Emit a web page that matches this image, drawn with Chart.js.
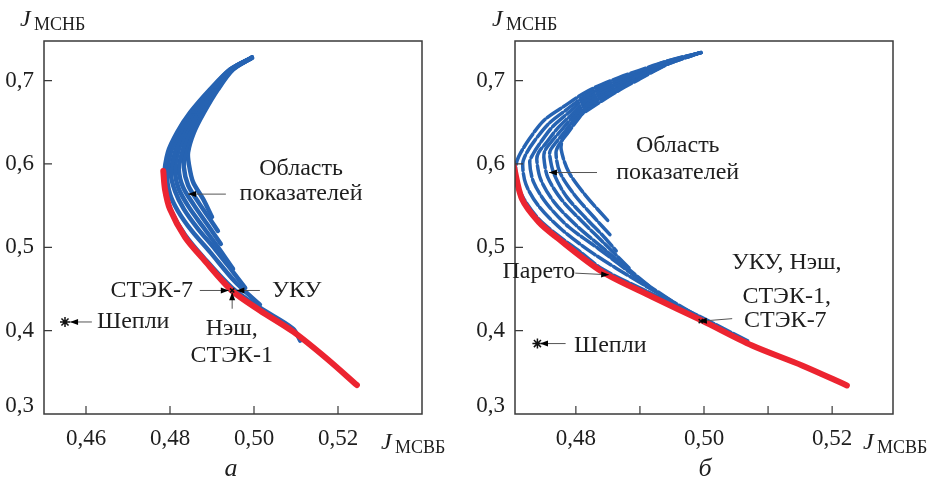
<!DOCTYPE html>
<html>
<head>
<meta charset="utf-8">
<script src="https://cdn.jsdelivr.net/npm/chart.js@4.4.1/dist/chart.umd.min.js"></script>
<style>
    body { margin: 0; background: #fff; }
    .panel { position: absolute; top: 0; width: 471px; height: 480px; }
</style>
</head>
<body>
<div class="panel" style="left:0"><canvas id="chartA" width="471" height="480"></canvas></div>
<div class="panel" style="left:471px"><canvas id="chartB" width="471" height="480"></canvas></div>
<script>
// ---- данные (а) ----
const yTicks = [0.3, 0.4, 0.5, 0.6, 0.7];

const leftXTicks = [0.46, 0.48, 0.50, 0.52];
const leftXLabelled = [0.46, 0.48, 0.50, 0.52];

// фронт Парето (красный)
const leftFrontX = [0.4784, 0.4788, 0.4800, 0.4836, 0.4879, 0.4947, 0.5014, 0.5094, 0.5173, 0.5245];
const leftFrontY = [0.5916, 0.5698, 0.5458, 0.5120, 0.4861, 0.4482, 0.4243, 0.3985, 0.3666, 0.3347];

// область показателей (синие кривые)
const leftCurveX = [
    [0.4995, 0.4943, 0.4895, 0.4848, 0.4817, 0.4795, 0.4786, 0.4790, 0.4805, 0.4836, 0.4879, 0.4948, 0.5014, 0.5093, 0.5110],
    [0.4995, 0.4943, 0.4898, 0.4852, 0.4824, 0.4802, 0.4793, 0.4800, 0.4819, 0.4852, 0.4895, 0.4955, 0.5014],
    [0.4995, 0.4945, 0.4902, 0.4857, 0.4831, 0.4812, 0.4802, 0.4812, 0.4833, 0.4867, 0.4907, 0.4948, 0.4979],
    [0.4995, 0.4945, 0.4905, 0.4864, 0.4838, 0.4819, 0.4812, 0.4821, 0.4845, 0.4879, 0.4914, 0.4950],
    [0.4995, 0.4948, 0.4907, 0.4869, 0.4845, 0.4829, 0.4821, 0.4831, 0.4857, 0.4890, 0.4921],
    [0.4995, 0.4948, 0.4912, 0.4876, 0.4852, 0.4836, 0.4833, 0.4843, 0.4869, 0.4895, 0.4914],
    [0.4995, 0.4950, 0.4914, 0.4881, 0.4857, 0.4843, 0.4845, 0.4855, 0.4879, 0.4900]
];
const leftCurveY = [
    [0.7275, 0.7132, 0.6893, 0.6618, 0.6379, 0.6140, 0.5841, 0.5638, 0.5411, 0.5148, 0.4885, 0.4514, 0.4275, 0.4024, 0.3881],
    [0.7275, 0.7132, 0.6893, 0.6618, 0.6379, 0.6140, 0.5865, 0.5638, 0.5435, 0.5196, 0.4945, 0.4586, 0.4311],
    [0.7275, 0.7132, 0.6893, 0.6618, 0.6379, 0.6140, 0.5889, 0.5674, 0.5458, 0.5219, 0.4980, 0.4717, 0.4514],
    [0.7275, 0.7132, 0.6893, 0.6618, 0.6379, 0.6140, 0.5913, 0.5698, 0.5482, 0.5243, 0.5004, 0.4741],
    [0.7275, 0.7132, 0.6893, 0.6618, 0.6379, 0.6140, 0.5937, 0.5721, 0.5506, 0.5267, 0.5040],
    [0.7275, 0.7132, 0.6893, 0.6618, 0.6379, 0.6140, 0.5960, 0.5745, 0.5530, 0.5339, 0.5196],
    [0.7275, 0.7132, 0.6893, 0.6618, 0.6379, 0.6140, 0.5996, 0.5781, 0.5578, 0.5363]
];

const leftShapleyX = [0.4550];
const leftShapleyY = [0.4104];
const leftSolutionX = [0.4948];
const leftSolutionY = [0.4482];

// ---- данные (б) ----
const rightXTicks = [0.48, 0.49, 0.50, 0.51, 0.52];
const rightXLabelled = [0.48, 0.50, 0.52];

const rightFrontX = [0.4703, 0.4716, 0.4742, 0.4769, 0.4841, 0.4919, 0.4997, 0.5075, 0.5153, 0.5223];
const rightFrontY = [0.5980, 0.5578, 0.5303, 0.5124, 0.4706, 0.4407, 0.4120, 0.3821, 0.3582, 0.3343];

const rightCurveX = [
    [0.4995, 0.4945, 0.4898, 0.4867, 0.4820, 0.4781, 0.4750, 0.4727, 0.4711, 0.4706, 0.4709, 0.4719, 0.4742, 0.4769, 0.4805, 0.4841, 0.4919, 0.4997, 0.5070],
    [0.4995, 0.4945, 0.4898, 0.4867, 0.4820, 0.4786, 0.4758, 0.4736, 0.4722, 0.4717, 0.4722, 0.4742, 0.4777, 0.4828, 0.4898, 0.4997],
    [0.4995, 0.4945, 0.4898, 0.4867, 0.4820, 0.4789, 0.4764, 0.4745, 0.4733, 0.4728, 0.4734, 0.4755, 0.4789, 0.4836, 0.4898, 0.4956],
    [0.4995, 0.4945, 0.4898, 0.4867, 0.4820, 0.4792, 0.4770, 0.4753, 0.4742, 0.4739, 0.4745, 0.4766, 0.4800, 0.4844, 0.4914],
    [0.4995, 0.4945, 0.4898, 0.4867, 0.4820, 0.4795, 0.4777, 0.4761, 0.4752, 0.4750, 0.4756, 0.4777, 0.4809, 0.4847, 0.4883],
    [0.4995, 0.4945, 0.4898, 0.4867, 0.4820, 0.4798, 0.4783, 0.4769, 0.4761, 0.4759, 0.4766, 0.4786, 0.4817, 0.4844, 0.4863],
    [0.4995, 0.4945, 0.4898, 0.4867, 0.4820, 0.4802, 0.4788, 0.4775, 0.4769, 0.4775, 0.4797, 0.4828, 0.4855],
    [0.4995, 0.4945, 0.4898, 0.4867, 0.4820, 0.4805, 0.4789, 0.4780, 0.4777, 0.4789, 0.4816, 0.4852]
];
const rightCurveY = [
    [0.7335, 0.7239, 0.7120, 0.7036, 0.6881, 0.6689, 0.6522, 0.6295, 0.6092, 0.5960, 0.5757, 0.5578, 0.5339, 0.5160, 0.4956, 0.4741, 0.4443, 0.4156, 0.3869],
    [0.7335, 0.7239, 0.7108, 0.7012, 0.6845, 0.6654, 0.6486, 0.6283, 0.6116, 0.5996, 0.5757, 0.5494, 0.5219, 0.4921, 0.4586, 0.4144],
    [0.7335, 0.7227, 0.7096, 0.6988, 0.6821, 0.6618, 0.6450, 0.6259, 0.6116, 0.6020, 0.5781, 0.5518, 0.5243, 0.4980, 0.4622, 0.4323],
    [0.7335, 0.7227, 0.7072, 0.6964, 0.6785, 0.6582, 0.6415, 0.6247, 0.6140, 0.6056, 0.5817, 0.5542, 0.5267, 0.4980, 0.4538],
    [0.7335, 0.7215, 0.7060, 0.6952, 0.6749, 0.6558, 0.6403, 0.6259, 0.6164, 0.6080, 0.5841, 0.5578, 0.5315, 0.5028, 0.4753],
    [0.7335, 0.7215, 0.7048, 0.6929, 0.6713, 0.6534, 0.6391, 0.6259, 0.6176, 0.6116, 0.5877, 0.5602, 0.5339, 0.5124, 0.4956],
    [0.7335, 0.7203, 0.7024, 0.6905, 0.6689, 0.6522, 0.6379, 0.6247, 0.6140, 0.5901, 0.5638, 0.5363, 0.5136],
    [0.7335, 0.7203, 0.7012, 0.6881, 0.6654, 0.6570, 0.6450, 0.6319, 0.6176, 0.5901, 0.5614, 0.5303]
];

const rightShapleyX = [0.4740];
const rightShapleyY = [0.3845];
const rightSolutionX = [0.4995];
const rightSolutionY = [0.4115];

// ---- оформление ----
const SERIF = "'Liberation Serif', 'Times New Roman', serif";
const BLUE = "#2663b2";
const RED = "#ec2430";
const INK = "#1e1e1e";

function toPoints(xs, ys) {
    return xs.map((x, i) => ({ x: x, y: ys[i] }));
}

function fmt(v, digits) {
    return v.toFixed(digits).replace(".", ",");
}

function drawArrow(ctx, x1, y1, x2, y2) {
    ctx.save();
    ctx.strokeStyle = "#555";
    ctx.lineWidth = 1;
    ctx.beginPath();
    ctx.moveTo(x1, y1);
    ctx.lineTo(x2, y2);
    ctx.stroke();
    const a = Math.atan2(y2 - y1, x2 - x1);
    ctx.fillStyle = "#000";
    ctx.beginPath();
    ctx.moveTo(x2, y2);
    ctx.lineTo(x2 - 8 * Math.cos(a) + 3 * Math.sin(a), y2 - 8 * Math.sin(a) - 3 * Math.cos(a));
    ctx.lineTo(x2 - 8 * Math.cos(a) - 3 * Math.sin(a), y2 - 8 * Math.sin(a) + 3 * Math.cos(a));
    ctx.closePath();
    ctx.fill();
    ctx.restore();
}

function drawJ(ctx, x, y, sub) {
    ctx.textAlign = "left";
    ctx.textBaseline = "alphabetic";
    ctx.font = "italic 24px " + SERIF;
    ctx.fillText("J", x, y);
    ctx.font = "18px " + SERIF;
    ctx.fillText(sub, x + 14, y + 4);
}

// рамка, внутренние засечки, подписи
function framePlugin(p) {
    return {
        id: "frame",
        afterDraw(chart) {
            const ctx = chart.ctx;
            const a = chart.chartArea;
            const xs = chart.scales.x;
            const ys = chart.scales.y;
            ctx.save();
            ctx.strokeStyle = "#3a3a3a";
            ctx.lineWidth = 1.5;
            ctx.strokeRect(a.left, a.top, a.right - a.left, a.bottom - a.top);

            ctx.lineWidth = 1.2;
            ctx.beginPath();
            xs.ticks.forEach(t => {
                const px = xs.getPixelForValue(t.value);
                ctx.moveTo(px, a.bottom);
                ctx.lineTo(px, a.bottom - 8);
            });
            ys.ticks.forEach(t => {
                if (t.value <= ys.min) return;
                const py = ys.getPixelForValue(t.value);
                ctx.moveTo(a.left, py);
                ctx.lineTo(a.left + 8, py);
            });
            ctx.stroke();

            ctx.fillStyle = INK;
            drawJ(ctx, p.yTitleX, 26, "МСНБ");
            drawJ(ctx, p.xTitleX, 449, "МСВБ");
            ctx.font = "italic 26px " + SERIF;
            ctx.textAlign = "center";
            ctx.fillText(p.letter, p.letterX, 476);

            ctx.font = "24px " + SERIF;
            ctx.textBaseline = "middle";
            p.notes.forEach(n => {
                ctx.textAlign = n.align || "center";
                ctx.fillText(n.text, xs.getPixelForValue(n.x), ys.getPixelForValue(n.y));
            });
            p.arrows.forEach(r => {
                drawArrow(ctx,
                    xs.getPixelForValue(r.from[0]), ys.getPixelForValue(r.from[1]),
                    xs.getPixelForValue(r.to[0]), ys.getPixelForValue(r.to[1]));
            });
            ctx.restore();
        }
    };
}

function makePanel(id, p) {
    const datasets = [];
    datasets.push({
        data: toPoints(p.frontX, p.frontY),
        showLine: true,
        borderColor: RED,
        borderWidth: 6,
        borderCapStyle: "round",
        pointRadius: 0,
        tension: 0.3,
        order: 0
    });
    p.curveX.forEach((xs, i) => {
        datasets.push({
            data: toPoints(xs, p.curveY[i]),
            showLine: true,
            borderColor: BLUE,
            borderWidth: p.lineWidth,
            borderDash: p.dash,
            borderCapStyle: "round",
            pointRadius: 0,
            tension: 0.3,
            order: 1
        });
    });
    datasets.push({
        data: toPoints(p.shapleyX, p.shapleyY),
        pointStyle: "star",
        pointRadius: 5,
        borderColor: "#111",
        borderWidth: 1.5,
        order: -1
    });
    datasets.push({
        data: toPoints(p.solutionX, p.solutionY),
        pointStyle: "crossRot",
        pointRadius: 3,
        borderColor: "#111",
        borderWidth: 1.5,
        order: -1
    });

    new Chart(document.getElementById(id), {
        type: "scatter",
        data: { datasets: datasets },
        options: {
            responsive: false,
            animation: false,
            layout: { padding: { top: 41, right: 49, left: 0, bottom: 26 } },
            plugins: {
                legend: { display: false },
                tooltip: { enabled: false }
            },
            scales: {
                x: {
                    type: "linear",
                    min: p.xMin,
                    max: p.xMax,
                    grid: { display: false },
                    border: { display: false },
                    afterBuildTicks: s => { s.ticks = p.xTicks.map(v => ({ value: v })); },
                    afterFit: s => { s.height = 40; },
                    ticks: {
                        padding: 3,
                        color: INK,
                        autoSkip: false,
                        maxRotation: 0,
                        font: { family: SERIF, size: 23 },
                        callback: v => p.xLabelled.some(l => Math.abs(l - v) < 1e-9) ? fmt(v, 2) : ""
                    }
                },
                y: {
                    type: "linear",
                    min: 0.3,
                    max: 0.7475,
                    grid: { display: false },
                    border: { display: false },
                    afterBuildTicks: s => { s.ticks = yTicks.map(v => ({ value: v })); },
                    afterFit: s => { s.width = 44; },
                    ticks: {
                        padding: 2,
                        color: INK,
                        font: { family: SERIF, size: 23, lineHeight: 0.7 },
                        callback: v => v < 0.35 ? [fmt(v, 1), ""] : fmt(v, 1)
                    }
                }
            }
        },
        plugins: [framePlugin(p)]
    });
}

makePanel("chartA", {
    xMin: 0.45, xMax: 0.54,
    xTicks: leftXTicks, xLabelled: leftXLabelled,
    frontX: leftFrontX, frontY: leftFrontY,
    curveX: leftCurveX, curveY: leftCurveY,
    shapleyX: leftShapleyX, shapleyY: leftShapleyY,
    solutionX: leftSolutionX, solutionY: leftSolutionY,
    lineWidth: 4.5, dash: [],
    yTitleX: 20, xTitleX: 381, letter: "а", letterX: 231,
    notes: [
        { text: "Область", x: 0.5112, y: 0.5937 },
        { text: "показателей", x: 0.5112, y: 0.5638 },
        { text: "СТЭК-7", x: 0.4855, y: 0.4482, align: "right" },
        { text: "УКУ", x: 0.5043, y: 0.4482, align: "left" },
        { text: "Нэш,", x: 0.4947, y: 0.4024 },
        { text: "СТЭК-1", x: 0.4947, y: 0.3705 },
        { text: "Шепли", x: 0.4626, y: 0.4104, align: "left" }
    ],
    arrows: [
        { from: [0.4933, 0.5638], to: [0.4843, 0.5638] },
        { from: [0.4871, 0.4482], to: [0.4940, 0.4482] },
        { from: [0.5014, 0.4482], to: [0.4958, 0.4482] },
        { from: [0.4948, 0.4263], to: [0.4948, 0.4460] },
        { from: [0.4614, 0.4104], to: [0.4562, 0.4104] }
    ]
});

makePanel("chartB", {
    xMin: 0.4705, xMax: 0.5295,
    xTicks: rightXTicks, xLabelled: rightXLabelled,
    frontX: rightFrontX, frontY: rightFrontY,
    curveX: rightCurveX, curveY: rightCurveY,
    shapleyX: rightShapleyX, shapleyY: rightShapleyY,
    solutionX: rightSolutionX, solutionY: rightSolutionY,
    lineWidth: 3.5, dash: [16, 3],
    yTitleX: 21, xTitleX: 392, letter: "б", letterX: 234,
    notes: [
        { text: "Область", x: 0.4959, y: 0.6215 },
        { text: "показателей", x: 0.4959, y: 0.5897 },
        { text: "Парето", x: 0.4799, y: 0.4702, align: "right" },
        { text: "УКУ, Нэш,", x: 0.5129, y: 0.4821 },
        { text: "СТЭК-1,", x: 0.5129, y: 0.4403 },
        { text: "СТЭК-7", x: 0.5127, y: 0.4123 },
        { text: "Шепли", x: 0.4797, y: 0.3818, align: "left" }
    ],
    arrows: [
        { from: [0.4833, 0.5897], to: [0.4758, 0.5897] },
        { from: [0.4799, 0.4690], to: [0.4852, 0.4670] },
        { from: [0.5044, 0.4144], to: [0.4992, 0.4112] },
        { from: [0.4784, 0.3845], to: [0.4744, 0.3845] }
    ]
});
</script>
</body>
</html>
